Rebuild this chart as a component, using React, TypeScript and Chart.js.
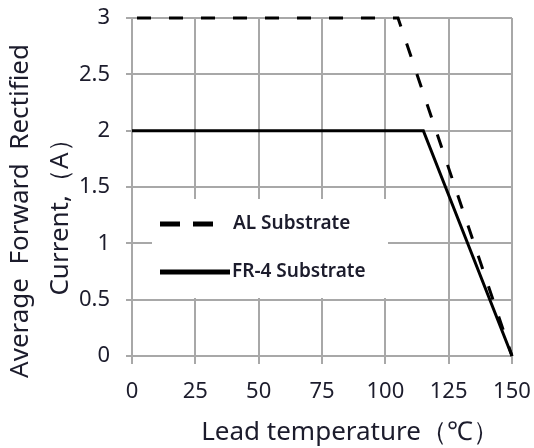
import React, { useEffect, useRef } from "react";
import { Chart, registerables } from "chart.js";

Chart.register(...registerables);

const alTemp = [0, 105, 150];
const alCurrent = [3, 3, 0];
const frTemp = [0, 115, 150];
const frCurrent = [2, 2, 0];
const seriesNames = ["AL Substrate", "FR-4 Substrate"];
const xTitle = "Lead temperature（℃）";
const yTitle = ["Average  Forward  Rectified", "Current,（A）"];

const FONT = "'Noto Sans', sans-serif";
const TEXT = "#1c1c2c";
const GRID = "#a8a8a8";

const titlePlugin = {
  id: "customTitles",
  afterDraw(chart: any) {
    const { ctx, chartArea } = chart;
    ctx.save();
    ctx.fillStyle = TEXT;
    ctx.font = `26px ${FONT}`;
    ctx.textAlign = "center";
    ctx.textBaseline = "alphabetic";
    const cx = (chartArea.left + chartArea.right) / 2 + 28;
    ctx.fillText(xTitle, cx, chartArea.bottom + 84);
    const cy = (chartArea.top + chartArea.bottom) / 2 + 24;
    ctx.translate(chartArea.left - 104, cy);
    ctx.rotate(-Math.PI / 2);
    ctx.fillText(yTitle[0], 0, 0);
    ctx.fillText(yTitle[1], 0, 40);
    ctx.restore();
  },
};

const legendDash = [20, 13];

const legendPlugin = {
  id: "boxLegend",
  beforeDatasetsDraw(chart: any) {
    const { ctx, chartArea } = chart;
    ctx.save();
    ctx.fillStyle = "#ffffff";
    ctx.fillRect(chartArea.left + 20, chartArea.top + 181, 236, 99);
    ctx.restore();
  },
  afterDatasetsDraw(chart: any) {
    const { ctx, chartArea } = chart;
    const x0 = chartArea.left + 28;
    const rows = [chartArea.top + 206, chartArea.top + 254];
    ctx.save();
    chart.data.datasets.forEach((ds: any, i: number) => {
      const y = rows[i];
      ctx.strokeStyle = ds.borderColor;
      ctx.lineWidth = 5;
      ctx.setLineDash(ds.borderDash ? legendDash : []);
      ctx.beginPath();
      ctx.moveTo(x0, y);
      ctx.lineTo(x0 + (i === 0 ? 53 : 70), y);
      ctx.stroke();
      ctx.setLineDash([]);
      ctx.fillStyle = TEXT;
      ctx.font = `600 19px ${FONT}`;
      ctx.textAlign = "left";
      ctx.textBaseline = "middle";
      ctx.fillText(ds.label, x0 + (i === 0 ? 73 : 72), y);
    });
    ctx.restore();
  },
};

export default function App() {
  const ref = useRef<HTMLCanvasElement>(null);
  useEffect(() => {
    if (!ref.current) return;
    const chart = new Chart(ref.current, {
      type: "line",
      data: {
        datasets: [
          {
            label: seriesNames[0],
            data: alTemp.map((t, i) => ({ x: t, y: alCurrent[i] })),
            borderColor: "#000000",
            borderWidth: 3,
            borderDash: [14, 18],
            borderDashOffset: 27,
            pointRadius: 0,
            fill: false,
            clip: false,
            tension: 0,
          },
          {
            label: seriesNames[1],
            data: frTemp.map((t, i) => ({ x: t, y: frCurrent[i] })),
            borderColor: "#000000",
            borderWidth: 3,
            pointRadius: 0,
            fill: false,
            clip: false,
            tension: 0,
          },
        ],
      },
      options: {
        animation: false,
        responsive: false,
        devicePixelRatio: 1,
        layout: { padding: { top: 18, right: 22, left: 0, bottom: 0 } },
        plugins: {
          legend: { display: false },
          tooltip: { enabled: false },
        },
        scales: {
          x: {
            type: "linear",
            min: 0,
            max: 150,
            afterFit: (s: any) => {
              s.height = 92;
              s.paddingLeft = 0;
              s.paddingRight = 0;
            },
            ticks: {
              stepSize: 25,
              color: TEXT,
              font: { family: FONT, size: 22 },
              padding: 15,
              maxRotation: 0,
            },
            grid: { color: GRID, lineWidth: 2, tickLength: 8 },
            border: { color: GRID, width: 2 },
          },
          y: {
            type: "linear",
            min: 0,
            max: 3,
            afterFit: (s: any) => {
              s.width = 132;
              s.paddingTop = 0;
              s.paddingBottom = 0;
            },
            ticks: {
              stepSize: 0.5,
              color: TEXT,
              font: { family: FONT, size: 22 },
              padding: 16,
              callback: (v: any) => String(v),
            },
            grid: { color: GRID, lineWidth: 2, tickLength: 6 },
            border: { color: GRID, width: 2 },
          },
        },
      },
      plugins: [titlePlugin, legendPlugin],
    });
    return () => chart.destroy();
  }, []);
  return (
    <div style={{ position: "fixed", left: 0, top: 0, width: 534, height: 448, background: "#fff" }}>
      <canvas ref={ref} width={534} height={448} />
    </div>
  );
}
